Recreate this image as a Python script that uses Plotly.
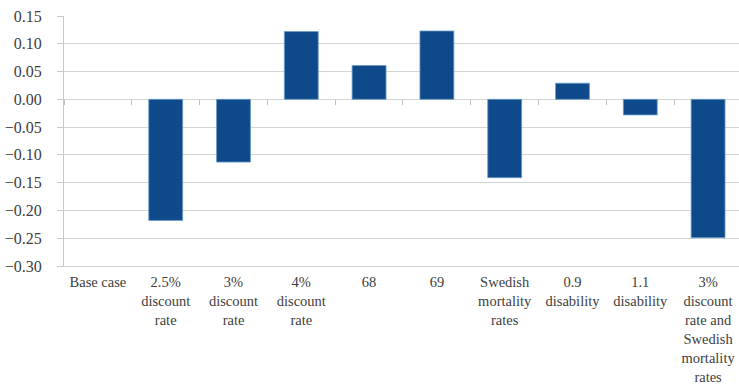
import plotly.graph_objects as go

# Scenario labels (line breaks as shown under the axis)
categories = [
    "Base case",
    "2.5%<br>discount<br>rate",
    "3%<br>discount<br>rate",
    "4%<br>discount<br>rate",
    "68",
    "69",
    "Swedish<br>mortality<br>rates",
    "0.9<br>disability",
    "1.1<br>disability",
    "3%<br>discount<br>rate and<br>Swedish<br>mortality<br>rates",
]

# Change relative to the base case
values = [0.0, -0.218, -0.113, 0.122, 0.061, 0.123, -0.141, 0.029, -0.028, -0.249]

y_ticks = [0.15, 0.10, 0.05, 0.00, -0.05, -0.10, -0.15, -0.20, -0.25, -0.30]

BAR = "#0E4A8A"
GRID = "#D4D4D4"
TEXT = "#404040"
FONT = "Liberation Serif"

x_range = [-0.5, 9.456]

# no outline on an empty (zero-height) bar
outline = [0 if v == 0 else 0.8 for v in values]

fig = go.Figure()
fig.add_trace(go.Bar(
    x=categories,
    y=values,
    marker=dict(color=BAR, line=dict(color="#6A9BCB", width=outline)),
    hoverinfo="x+y",
))
# carrier trace for the tick axis that crosses at zero
fig.add_trace(go.Scatter(
    x=categories, y=values, xaxis="x2", mode="none", hoverinfo="skip", showlegend=False,
))

fig.update_layout(
    width=739,
    height=388,
    margin=dict(l=64, r=0, t=16, b=122),
    paper_bgcolor="white",
    plot_bgcolor="white",
    showlegend=False,
    bargap=0.5,
    font=dict(family=FONT, size=16, color=TEXT),
    xaxis=dict(
        type="category",
        range=x_range,
        automargin=False,
        showgrid=False,
        zeroline=False,
        showline=True,
        linecolor=GRID,
        linewidth=1,
        ticks="",
        ticklabelstandoff=3,
        tickfont=dict(family=FONT, size=14.5, color=TEXT),
        tickangle=0,
    ),
    xaxis2=dict(
        type="category",
        overlaying="x",
        anchor="free",
        position=0.30 / 0.45,
        range=x_range,
        automargin=False,
        showgrid=False,
        zeroline=False,
        showline=False,
        showticklabels=False,
        ticks="outside",
        tickson="boundaries",
        ticklen=5,
        tickcolor="#BFBFBF",
        tickwidth=1,
    ),
    yaxis=dict(
        range=[-0.30, 0.15],
        tickvals=y_ticks,
        tickformat=".2f",
        automargin=False,
        showgrid=True,
        gridcolor=GRID,
        gridwidth=1,
        zeroline=True,
        zerolinecolor=GRID,
        zerolinewidth=1,
        showline=True,
        linecolor="#C8C8C8",
        linewidth=1,
        ticks="outside",
        ticklen=6,
        tickcolor="#C8C8C8",
        ticklabelstandoff=12,
        tickfont=dict(family=FONT, size=16, color=TEXT),
    ),
)

fig.write_html("out.html")
